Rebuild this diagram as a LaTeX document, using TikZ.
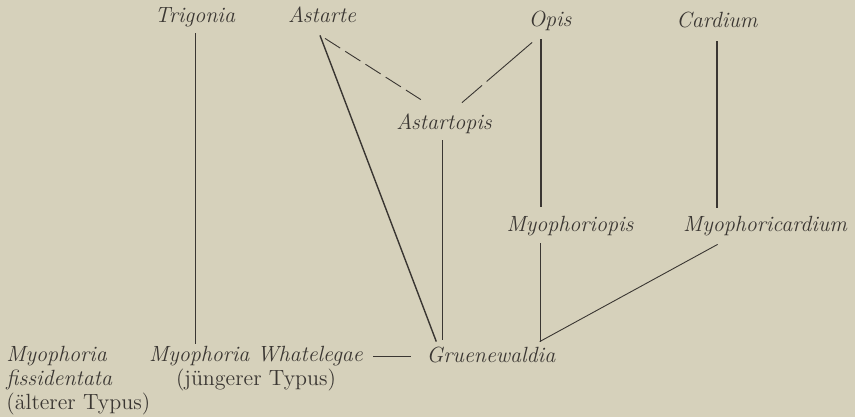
\documentclass[tikz,border=0pt]{standalone}
\usepackage{fontspec}
\usetikzlibrary{calc}
\definecolor{paper}{RGB}{214,209,187}
\definecolor{ink}{RGB}{58,54,50}

\begin{document}
\begin{tikzpicture}[
    x=0.5pt, y=-0.5pt,
    taxon/.style={inner sep=1pt, text height=8pt, text depth=2.5pt,
      font=\fontsize{11}{12}\selectfont\itshape, text=ink},
    group/.style={inner sep=1pt, font=\fontsize{11}{12}\selectfont, text=ink},
    stem/.style={draw=ink, line width=0.45pt},
    trunk/.style={draw=ink, line width=0.7pt},
    guess/.style={draw=ink, line width=0.45pt, dash pattern=on 9pt off 3pt},
  ]
  \fill[paper] (0,0) rectangle (855,417);
  \useasboundingbox (0,0) rectangle (855,417);

  % upper row
  \node[taxon, anchor=base] (trig) at (195,23) {Trigonia};
  \node[taxon, anchor=base] (ast) at (322,23) {Astarte};
  \node[taxon, anchor=base] (opis) at (550,27) {Opis};
  \node[taxon, anchor=base] (card) at (717,28) {Cardium};

  % middle
  \node[taxon, anchor=base] (asto) at (444,129) {Astartopis};
  \node[taxon, anchor=base] (myopi) at (570,231) {Myophoriopis};
  \node[taxon, anchor=base] (mycar) at (765,231) {Myophoricardium};

  % lower row
  \node[taxon, anchor=base] (gru) at (491,362) {Gruenewaldia};
  \node[group, anchor=north, align=center] (whate) at (256,344)
    {\textit{Myophoria Whatelegae}\\(jüngerer Typus)};
  \node[group, anchor=north west, align=left] (fiss) at (4,344)
    {\textit{Myophoria}\\\textit{fissidentata}\\(älterer Typus)};

  % connectors
  \draw[stem] ($(trig.south)+(0,3)$) -- (trig.south |- whate.north);
  \draw[trunk] ($(ast.south)+(-2,5)$) -- ($(gru.north west)+(12,-2)$);
  \draw[guess] ($(ast.south)+(3,8)$) -- ($(asto.north west)+(27,-11)$);
  \draw[guess, dash pattern=on 30pt off 3pt] ($(opis.south west)+(6,8)$) -- ($(asto.north)+(18,-8)$);
  \draw[stem] ($(asto.south)+(-2,4)$) -- ($(asto.south |- gru.north)+(-2,-4)$);
  \draw[trunk] ($(opis.south)+(-9,5)$) -- ($(opis.south |- myopi.north)+(-9,-6)$);
  \draw[trunk] ($(card.south)+(0,6)$) -- ($(card.south |- mycar.north)+(0,-5)$);
  \draw[stem] ($(myopi.south)+(-30,5)$) -- ($(myopi.south |- gru.north)+(-30,-2)$);
  \draw[stem] ($(mycar.south west)+(37,6)$) -- ($(gru.north east)+(-18,-2)$);
  \draw[stem, shorten <=4pt, shorten >=6.5pt] (gru.west -| whate.east) -- (gru.west);
\end{tikzpicture}
\end{document}
